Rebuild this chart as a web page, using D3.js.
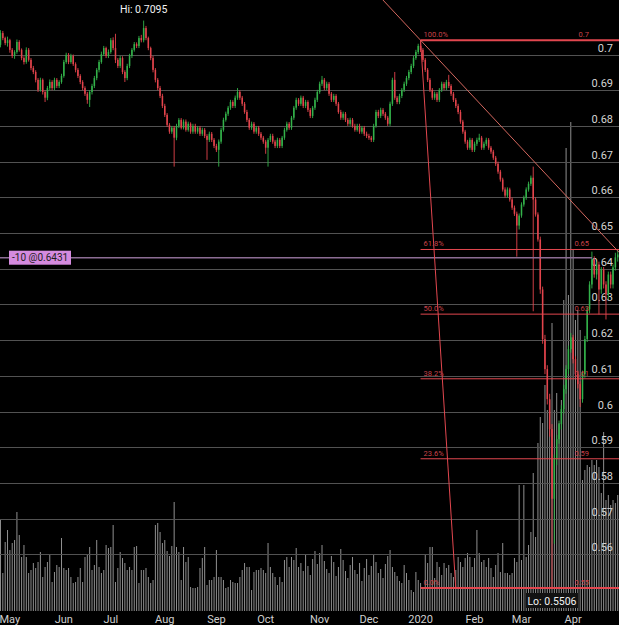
<!DOCTYPE html>
<html>
<head>
<meta charset="utf-8">
<script src="https://cdn.jsdelivr.net/npm/d3@7"></script>
<style>
    html, body { margin: 0; padding: 0; background: #000; }
    #chart { width: 619px; height: 625px; }
    text { font-family: Roboto, "Liberation Sans", Arial, sans-serif; }
</style>
</head>
<body>
<div id="chart"></div>
<script>
// AUD/USD daily, Apr 2019 - Apr 2020, prices in pips (x 0.0001)
const openPips = [
    7027,7060,7046,7032,7040,7013,6996,7007,7035,7013,
    6990,6979,7013,6985,6962,6951,6929,6901,6929,6895,
    6879,6906,6923,6906,6929,6912,6923,6940,6979,6999,
    6979,6996,6973,6957,6940,6923,6906,6890,6873,6895,
    6912,6934,6957,6979,7001,7018,6996,7007,7040,7018,
    6985,6968,6990,6951,6934,6968,6996,7013,7029,7024,
    7046,7040,7074,7046,7018,6990,6957,6929,6906,6884,
    6856,6831,6803,6784,6795,6767,6800,6817,6795,6812,
    6789,6806,6784,6800,6784,6795,6778,6789,6772,6761,
    6778,6761,6744,6733,6756,6789,6817,6834,6851,6867,
    6856,6879,6895,6879,6862,6839,6817,6795,6806,6784,
    6795,6778,6767,6756,6739,6761,6772,6756,6744,6761,
    6744,6767,6789,6806,6795,6823,6851,6873,6862,6879,
    6856,6867,6845,6828,6851,6873,6895,6918,6929,6906,
    6918,6890,6873,6884,6862,6839,6823,6834,6817,6806,
    6817,6800,6789,6800,6784,6795,6778,6772,6767,6761,
    6800,6839,6828,6845,6834,6823,6806,6862,6929,6879,
    6867,6884,6901,6918,6934,6951,6968,6990,7007,7024,
    7013,6985,6957,6929,6901,6879,6890,6873,6901,6918,
    6906,6923,6912,6890,6873,6856,6839,6812,6784,6756,
    6739,6761,6733,6750,6761,6767,6739,6750,6761,6739,
    6728,6711,6694,6672,6650,6622,6605,6622,6594,6571,
    6554,6521,6549,6580,6599,6622,6638,6655,6594,6552,
    6482,6342,6203,6119,6035,5951,5756,5867,5923,5965,
    6007,6063,6119,6175,6208,6147,6105,6077,6035,6105,
    6203,6286,6356,6426,6384,6412,6342,6398,6356,6328,
    6384,6356,6404,6432
]
const highPips = [
    7068,7066,7050,7050,7044,7018,7012,7042,7040,7017,
    6995,7020,7018,6990,6968,6956,6934,6935,6933,6900,
    6912,6930,6928,6935,6934,6928,6946,6985,7005,7004,
    7002,7000,6978,6962,6945,6928,6911,6895,6900,6918,
    6940,6962,6985,7008,7024,7022,7014,7046,7048,7058,
    6990,6996,6995,6956,6974,7002,7018,7035,7034,7052,
    7055,7095,7080,7050,7022,6996,6962,6934,6912,6890,
    6862,6836,6808,6800,6800,6806,6822,6822,6818,6818,
    6812,6810,6806,6806,6800,6800,6795,6794,6777,6784,
    6783,6766,6750,6762,6795,6823,6840,6856,6873,6872,
    6885,6906,6900,6884,6867,6845,6822,6812,6811,6800,
    6800,6783,6772,6761,6766,6778,6778,6761,6767,6766,
    6772,6795,6812,6811,6828,6856,6879,6878,6885,6884,
    6873,6872,6850,6856,6879,6901,6924,6940,6934,6924,
    6923,6895,6890,6889,6867,6845,6840,6839,6822,6823,
    6822,6806,6806,6806,6800,6800,6784,6778,6772,6806,
    6845,6845,6851,6850,6839,6828,6868,6935,6951,6884,
    6890,6906,6924,6940,6957,6974,6996,7013,7030,7040,
    7018,6990,6962,6934,6906,6896,6895,6906,6924,6923,
    6929,6943,6917,6895,6878,6862,6845,6817,6789,6761,
    6767,6766,6756,6767,6778,6772,6756,6767,6766,6744,
    6733,6716,6700,6677,6655,6628,6628,6627,6600,6577,
    6560,6555,6586,6605,6628,6644,6661,6686,6600,6558,
    6490,6350,6215,6130,6050,5965,5880,5935,5975,6018,
    6075,6130,6185,6220,6215,6155,6115,6085,6115,6212,
    6295,6365,6448,6435,6420,6420,6405,6405,6365,6392,
    6392,6412,6445,6452
]
const lowPips = [
    7020,7040,7026,7022,7005,6990,6988,7002,7008,6984,
    6972,6974,6980,6956,6945,6922,6895,6896,6888,6867,
    6872,6900,6900,6900,6906,6906,6918,6935,6974,6973,
    6974,6968,6950,6934,6917,6900,6884,6862,6853,6888,
    6906,6928,6950,6974,6996,6990,6990,7002,7012,6976,
    6962,6962,6945,6923,6928,6962,6990,7008,7018,7018,
    7034,7034,7040,7012,6984,6950,6922,6900,6878,6850,
    6825,6797,6778,6778,6686,6760,6794,6790,6790,6784,
    6784,6778,6778,6778,6778,6772,6772,6766,6705,6755,
    6755,6738,6727,6686,6750,6784,6812,6828,6845,6850,
    6850,6873,6873,6856,6834,6811,6789,6789,6778,6778,
    6772,6761,6750,6722,6686,6755,6750,6738,6738,6738,
    6738,6761,6784,6789,6789,6817,6845,6856,6856,6850,
    6850,6839,6822,6822,6845,6867,6890,6912,6900,6900,
    6884,6867,6867,6856,6834,6817,6817,6811,6800,6800,
    6795,6784,6784,6778,6778,6772,6766,6761,6755,6755,
    6795,6822,6822,6828,6817,6800,6800,6856,6873,6861,
    6861,6878,6895,6912,6928,6945,6962,6985,7001,7007,
    6979,6951,6923,6895,6873,6873,6867,6867,6895,6900,
    6900,6906,6884,6867,6850,6833,6806,6778,6750,6733,
    6733,6727,6727,6744,6755,6733,6733,6744,6733,6722,
    6705,6688,6666,6644,6616,6599,6599,6588,6565,6548,
    6434,6510,6543,6574,6593,6616,6632,6281,6546,6476,
    6330,6190,6105,6020,5930,5506,5630,5850,5910,5950,
    5995,6050,6105,6165,6135,6095,6065,6013,6025,6095,
    6195,6275,6345,6375,6370,6272,6330,6345,6258,6315,
    6345,6345,6395,6420
]
const closePips = [
    7060,7046,7032,7040,7013,6996,7007,7035,7013,6990,
    6979,7013,6985,6962,6951,6929,6901,6929,6895,6879,
    6906,6923,6906,6929,6912,6923,6940,6979,6999,6979,
    6996,6973,6957,6940,6923,6906,6890,6873,6895,6912,
    6934,6957,6979,7001,7018,6996,7007,7040,7018,6985,
    6968,6990,6951,6934,6968,6996,7013,7029,7024,7046,
    7040,7074,7046,7018,6990,6957,6929,6906,6884,6856,
    6831,6803,6784,6795,6767,6800,6817,6795,6812,6789,
    6806,6784,6800,6784,6795,6778,6789,6772,6761,6778,
    6761,6744,6733,6756,6789,6817,6834,6851,6867,6856,
    6879,6895,6879,6862,6839,6817,6795,6806,6784,6795,
    6778,6767,6756,6739,6761,6772,6756,6744,6761,6744,
    6767,6789,6806,6795,6823,6851,6873,6862,6879,6856,
    6867,6845,6828,6851,6873,6895,6918,6929,6906,6918,
    6890,6873,6884,6862,6839,6823,6834,6817,6806,6817,
    6800,6789,6800,6784,6795,6778,6772,6767,6761,6800,
    6839,6828,6845,6834,6823,6806,6862,6929,6879,6867,
    6884,6901,6918,6934,6951,6968,6990,7007,7024,7013,
    6985,6957,6929,6901,6879,6890,6873,6901,6918,6906,
    6923,6912,6890,6873,6856,6839,6812,6784,6756,6739,
    6761,6733,6750,6761,6767,6739,6750,6761,6739,6728,
    6711,6694,6672,6650,6622,6605,6622,6594,6571,6554,
    6521,6549,6580,6599,6622,6638,6655,6594,6552,6482,
    6342,6203,6119,6035,5951,5756,5867,5923,5965,6007,
    6063,6119,6175,6208,6147,6105,6077,6035,6105,6203,
    6286,6356,6426,6384,6412,6342,6398,6356,6328,6384,
    6356,6404,6432,6440
]
// volume, arbitrary units
const volumes = [
    91,38,69,81,61,68,71,99,76,54,
    66,54,38,41,48,43,49,59,34,44,
    49,56,29,39,46,44,73,43,41,43,
    34,28,29,34,43,29,54,56,64,41,
    46,71,44,38,41,66,63,64,86,29,
    43,59,53,48,41,44,41,64,65,28,
    41,41,43,34,28,31,86,88,79,68,
    71,60,55,65,109,64,59,31,64,49,
    54,24,23,23,24,43,53,64,26,31,
    31,34,61,34,34,31,23,24,31,29,
    28,28,34,41,48,44,44,21,39,41,
    41,43,41,38,68,44,38,34,26,34,
    29,51,54,44,54,51,63,44,48,40,
    56,45,36,52,60,47,58,66,50,42,
    38,55,49,35,44,62,51,40,33,46,
    54,41,37,48,30,43,52,36,45,57,
    49,38,42,33,47,55,61,44,39,35,
    30,28,46,38,31,21,19,39,31,28,
    23,56,48,64,64,33,49,44,36,48,
    43,46,38,34,41,54,49,44,53,58,
    54,44,53,81,58,49,51,44,53,43,
    34,46,58,39,68,38,38,36,38,53,
    49,126,51,126,54,66,79,138,74,168,
    194,188,226,201,211,288,201,218,188,211,
    311,463,316,489,361,291,301,281,131,141,
    146,144,151,146,151,144,118,179,111,116,
    106,111,108,116
]

const priceTicks = [0.56, 0.57, 0.58, 0.59, 0.60, 0.61, 0.62, 0.63, 0.64, 0.65, 0.66, 0.67, 0.68, 0.69, 0.70]
const fibRatios = [1, 0.618, 0.5, 0.382, 0.236, 0]
const fibHigh = { date: '2020-01-01', price: 0.7040 }
const fibLow = { date: '2020-01-22', price: 0.5506 }
const trendPoints = [{ date: '2020-01-01', price: 0.7040 }, { date: '2020-04-28', price: 0.6450 }]
const position = { label: '-10 @0.6431', price: 0.6431 }

let DrawChart = function (id) {
    this.id = id
    this.svgWidth = 619
    this.svgHeight = 625
    this.width = this.svgWidth

    this.svg = d3.select('#' + id).append('svg')
        .attr('width', this.svgWidth)
        .attr('height', this.svgHeight)
        .style('background', '#000')
}

DrawChart.prototype.init = function () {
    let fmt = d3.timeFormat('%Y-%m-%d')
    // weekdays only, like the trading calendar
    let days = d3.timeDay.range(new Date(2019, 3, 25), new Date(2020, 3, 29))
        .filter(d => d.getDay() !== 0 && d.getDay() !== 6)
        .slice(0, closePips.length)

    this.bars = days.map((d, i) => ({
        key: fmt(d),
        date: d,
        o: openPips[i] / 1e4,
        h: highPips[i] / 1e4,
        l: lowPips[i] / 1e4,
        c: closePips[i] / 1e4,
        v: volumes[i]
    }))

    this.x = d3.scaleBand()
        .domain(this.bars.map(d => d.key))
        .range([-1.1, 619.3])
        .padding(0.35)
    this.y = d3.scaleLinear().domain([0.55, 0.70]).range([590.2, 54.5])
    this.yv = d3.scaleLinear().domain([0, 500]).range([611, 111])

    this.cx = k => this.x(k) + this.x.bandwidth() / 2
}

DrawChart.prototype.drawVolume = function () {
    this.svg.append('g').attr('class', 'volume')
        .selectAll('rect').data(this.bars).join('rect')
        .attr('x', d => this.cx(d.key) - 0.5)
        .attr('width', 1)
        .attr('y', d => this.yv(d.v))
        .attr('height', d => this.yv(0) - this.yv(d.v))
        .attr('fill', '#8f8f8f')
}

DrawChart.prototype.drawGrid = function () {
    let g = this.svg.append('g').attr('class', 'grid')
    g.selectAll('line').data(priceTicks).join('line')
        .attr('x1', 0).attr('x2', this.width)
        .attr('y1', d => Math.round(this.y(d)) + 0.5)
        .attr('y2', d => Math.round(this.y(d)) + 0.5)
        .attr('stroke', '#525252')
        .attr('stroke-width', 1)

    let f = d3.format('.2~f')
    g.selectAll('text').data(priceTicks).join('text')
        .attr('x', 613)
        .attr('y', d => this.y(d) - 3)
        .attr('text-anchor', 'end')
        .attr('font-size', 11)
        .attr('fill', '#d4d4d4')
        .text(d => f(d))
}

DrawChart.prototype.drawCandles = function () {
    const up = '#33b24a', down = '#e3444c'
    let g = this.svg.append('g').attr('class', 'candles')
    let bw = this.x.bandwidth()

    g.selectAll('line').data(this.bars).join('line')
        .attr('x1', d => this.cx(d.key)).attr('x2', d => this.cx(d.key))
        .attr('y1', d => this.y(d.h)).attr('y2', d => this.y(d.l))
        .attr('stroke', d => d.c >= d.o ? up : down)
        .attr('stroke-width', 0.9)

    g.selectAll('rect').data(this.bars).join('rect')
        .attr('x', d => this.x(d.key))
        .attr('width', bw)
        .attr('y', d => this.y(Math.max(d.o, d.c)))
        .attr('height', d => Math.max(1, Math.abs(this.y(d.o) - this.y(d.c))))
        .attr('fill', d => d.c >= d.o ? up : down)
}

DrawChart.prototype.drawPosition = function () {
    let py = this.y(position.price)
    this.svg.append('line')
        .attr('x1', 0).attr('x2', 592)
        .attr('y1', py).attr('y2', py)
        .attr('stroke', '#8c6d94')
        .attr('stroke-width', 1.5)

    this.svg.append('rect')
        .attr('x', 9).attr('y', py - 7)
        .attr('width', 62).attr('height', 14)
        .attr('fill', '#d58bdf')
    this.svg.append('text')
        .attr('x', 12).attr('y', py + 3.5)
        .attr('font-size', 10)
        .attr('fill', '#1e1e1e')
        .text(position.label)
}

DrawChart.prototype.drawFib = function () {
    const fibColor = '#e2474f'
    let g = this.svg.append('g').attr('class', 'fib')
    let x0 = this.cx(fibHigh.date)
    let range = fibHigh.price - fibLow.price
    let levels = fibRatios.map(r => ({ r: r, price: fibLow.price + r * range }))
    let f = d3.format('.2~f')

    // anchor diagonal
    g.append('line')
        .attr('x1', x0).attr('y1', this.y(fibHigh.price))
        .attr('x2', this.cx(fibLow.date)).attr('y2', this.y(fibLow.price))
        .attr('stroke', fibColor)
        .attr('stroke-width', 1)

    g.selectAll('line.level').data(levels).join('line')
        .attr('class', 'level')
        .attr('x1', x0).attr('x2', this.width)
        .attr('y1', d => this.y(d.price)).attr('y2', d => this.y(d.price))
        .attr('stroke', fibColor)
        .attr('stroke-width', d => (d.r === 1 || d.r === 0) ? 2 : 1)

    g.selectAll('text.pct').data(levels).join('text')
        .attr('class', 'pct')
        .attr('x', x0 + 3)
        .attr('y', d => this.y(d.price) - 3)
        .attr('font-size', 7.5)
        .attr('fill', '#c9434a')
        .text(d => (d.r * 100).toFixed(1) + '%')

    g.selectAll('text.val').data(levels).join('text')
        .attr('class', 'val')
        .attr('x', 589)
        .attr('y', d => this.y(d.price) - 3)
        .attr('text-anchor', 'end')
        .attr('font-size', 7.5)
        .attr('fill', '#c9434a')
        .text(d => f(d.price))
}

DrawChart.prototype.drawTrend = function () {
    let a = [this.cx(trendPoints[0].date), this.y(trendPoints[0].price)]
    let b = [this.cx(trendPoints[1].date), this.y(trendPoints[1].price)]
    let k = (b[1] - a[1]) / (b[0] - a[0])
    let xTop = a[0] - a[1] / k

    this.svg.append('line')
        .attr('x1', xTop).attr('y1', 0)
        .attr('x2', this.width).attr('y2', a[1] + (this.width - a[0]) * k)
        .attr('stroke', '#d3675e')
        .attr('stroke-width', 1)
}

DrawChart.prototype.drawLabels = function () {
    let hi = this.bars.reduce((m, d) => d.h > m.h ? d : m)
    let lo = this.bars.reduce((m, d) => d.l < m.l ? d : m)

    this.svg.append('text')
        .attr('x', this.cx(hi.key))
        .attr('y', 12.5)
        .attr('text-anchor', 'middle')
        .attr('font-size', 10.5)
        .attr('fill', '#f2f2f2')
        .text('Hi: ' + hi.h.toFixed(4))

    let lx = this.cx(lo.key)
    this.svg.append('rect')
        .attr('x', lx - 26).attr('y', 593)
        .attr('width', 52).attr('height', 15)
        .attr('fill', '#121212')
    this.svg.append('text')
        .attr('x', lx)
        .attr('y', 604.5)
        .attr('text-anchor', 'middle')
        .attr('font-size', 10.5)
        .attr('fill', '#f2f2f2')
        .text('Lo: ' + lo.l.toFixed(4))
}

DrawChart.prototype.drawAxis = function () {
    let monthStarts = this.bars
        .filter((d, i) => i > 0 && d.date.getMonth() !== this.bars[i - 1].date.getMonth())
        .map(d => d.key)
    let byKey = new Map(this.bars.map(d => [d.key, d.date]))

    let axis = d3.axisBottom(this.x)
        .tickValues(monthStarts)
        .tickSize(0)
        .tickPadding(3)
        .tickFormat(k => {
            let d = byKey.get(k)
            return d.getMonth() === 0 ? d3.timeFormat('%Y')(d) : d3.timeFormat('%b')(d)
        })

    let g = this.svg.append('g')
        .attr('transform', 'translate(0, 612)')
        .call(axis)
    g.select('.domain').remove()
    g.selectAll('text')
        .attr('font-size', 11)
        .attr('font-family', 'Roboto, "Liberation Sans", Arial, sans-serif')
        .attr('fill', '#cfcfcf')
}

let chart = new DrawChart('chart')
chart.init()
chart.drawVolume()
chart.drawGrid()
chart.drawCandles()
chart.drawPosition()
chart.drawFib()
chart.drawTrend()
chart.drawLabels()
chart.drawAxis()
</script>
</body>
</html>
